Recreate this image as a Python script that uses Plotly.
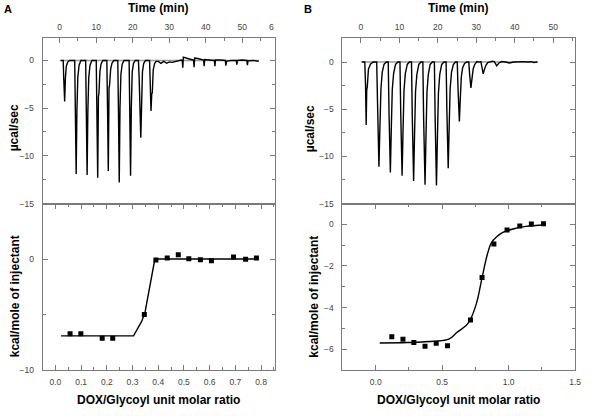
import plotly.graph_objects as go

# ---------------- DATA ----------------
# Panel A raw thermogram (Time in min, µcal/sec)
a_time = [0.3, 0.95, 1.1, 1.35, 1.55, 1.8, 2.15, 2.65,
          4.1, 4.25, 4.5, 4.7, 4.95, 5.3, 5.8,
          7.1, 7.3, 7.5, 7.7, 7.95, 8.3, 8.8,
          10.0, 10.2, 10.4, 10.6, 10.75, 11.0, 11.3, 11.8,
          12.9, 13.1, 13.3, 13.5, 13.65, 13.95, 14.3, 14.8,
          15.9, 16.1, 16.3, 16.5, 16.75, 17.1, 17.6,
          19.0, 19.2, 19.4, 19.6, 19.85, 20.2, 20.7,
          21.55, 21.75, 22.2, 22.4, 22.65, 23.0, 23.5,
          24.6, 24.75, 25.0, 25.2, 25.35, 25.6, 26.0, 26.4,
          27.0, 27.7, 28.5, 29.3, 30.0, 30.8, 31.6, 32.5, 33.3,
          33.55, 33.7, 33.85, 34.5, 35.5, 36.5,
          36.65, 36.8, 36.95, 37.8, 39.0,
          39.4, 39.55, 39.7, 41.0, 42.2,
          42.35, 42.5, 42.65, 44.0, 45.2,
          45.35, 45.5, 45.65, 47.0, 48.2,
          48.35, 48.5, 48.65, 50.0, 51.1,
          51.25, 51.4, 51.55, 53.0, 54.5]
a_signal = [0, 0, -1.9, -4.3, -1.9, -0.6, -0.2, 0,
            0, -5.9, -11.9, -5.4, -1.8, -0.5, 0,
            0, -7.2, -12.0, -5.4, -1.8, -0.5, 0,
            0, -5.5, -12.3, -3.8, -3.4, -1.2, -0.4, 0,
            0, -5.2, -11.6, -2.9, -2.6, -0.9, -0.3, 0,
            0, -5.8, -12.8, -5.0, -1.5, -0.4, 0,
            0, -5.4, -12.1, -5.0, -1.2, -0.3, 0,
            0, -1.8, -8.1, -3.6, -1.2, -0.3, 0,
            0, -1.6, -5.3, -3.5, -3.4, -1.0, -0.3, -0.1,
            -0.1, -0.3, -0.1, -0.3, -0.15, -0.2, -0.1, -0.05, 0.05,
            0.0, -0.75, 0.35, 0.3, 0.15, 0.05,
            0.05, -0.7, 0.25, 0.2, 0.05,
            0.05, -0.6, 0.1, 0.05, 0.0,
            0.0, -0.6, 0.05, 0.05, 0.0,
            0.0, -0.55, -0.1, 0.0, 0.0,
            0.0, -0.45, 0.0, 0.05, 0.0,
            0.0, -0.5, -0.05, 0.0, -0.1]
a_base_time = [0, 54.6]
a_base_signal = [0, 0]

# Panel A integrated heats
a_ratio = [0.057, 0.099, 0.182, 0.223, 0.346, 0.391, 0.435, 0.478, 0.519, 0.564, 0.607, 0.693, 0.740, 0.782]
a_heat = [-6.73, -6.73, -7.14, -7.14, -5.0, -0.09, 0.09, 0.39, 0.03, -0.06, -0.15, 0.18, -0.03, 0.09]
a_fit_ratio = [0.022, 0.304, 0.336, 0.349, 0.387, 0.791]
a_fit_heat = [-6.93, -6.93, -5.6, -4.75, 0.0, 0.0]

# Panel B raw thermogram
b_time = [0.3, 1.0, 1.2, 1.36, 1.5, 1.65, 1.95, 2.5, 3.2,
          4.1, 4.35, 4.68, 4.93, 5.2, 5.53, 6.0, 6.6,
          7.1, 7.3, 7.65, 7.9, 8.15, 8.5, 9.0, 9.6,
          10.15, 10.35, 10.7, 10.95, 11.2, 11.55, 12.05, 12.6,
          13.15, 13.35, 13.7, 13.95, 14.2, 14.55, 15.05, 15.6,
          16.1, 16.3, 16.67, 16.92, 17.17, 17.52, 18.0, 18.6,
          19.1, 19.3, 19.64, 19.9, 20.15, 20.5, 21.0, 21.6,
          22.15, 22.35, 22.7, 22.95, 23.2, 23.55, 24.05, 24.6,
          25.05, 25.25, 25.6, 25.85, 26.1, 26.45, 26.95, 27.5,
          28.05, 28.25, 28.6, 28.9, 29.2, 29.6, 30.2, 30.8,
          31.2, 31.45, 31.8, 32.1, 32.5, 33.0, 33.6, 34.2,
          34.7, 35.3, 35.9, 36.6, 37.6, 38.6, 39.8, 41.0, 42.3, 43.3, 44.2, 45.0, 45.9]
b_signal = [0, 0, -2.5, -6.67, -3.0, -2.6, -0.75, -0.2, 0,
            0, -5.0, -11.1, -7.0, -2.85, -1.1, -0.25, 0,
            0, -5.3, -11.7, -7.0, -2.9, -1.2, -0.25, 0,
            0, -5.4, -12.05, -7.2, -3.0, -1.2, -0.25, 0,
            0, -5.7, -12.6, -7.6, -3.1, -1.3, -0.25, 0,
            0, -5.9, -13.0, -7.8, -3.2, -1.3, -0.25, 0,
            0, -5.9, -13.1, -7.9, -3.3, -1.3, -0.25, 0,
            0, -5.1, -11.25, -6.8, -2.8, -1.1, -0.25, 0,
            0, -2.8, -6.3, -3.8, -1.6, -0.6, -0.15, 0,
            0, -1.2, -2.75, -1.7, -0.7, -0.25, 0.05, 0,
            0.05, -0.5, -1.25, -0.8, -0.35, -0.05, 0.05, 0.1,
            0.05, -0.4, -0.1, 0.05, 0.0, -0.1, 0.0, 0.05, 0.05, 0.0, 0.05, -0.05, 0.0]
b_base_time = [0, 46.0]
b_base_signal = [0, 0]

# Panel B integrated heats
b_ratio = [0.121, 0.205, 0.287, 0.371, 0.455, 0.540, 0.713, 0.800, 0.889, 0.988, 1.084, 1.171, 1.262]
b_heat = [-5.40, -5.52, -5.68, -5.86, -5.71, -5.84, -4.60, -2.56, -0.94, -0.27, -0.08, 0.02, 0.03]
b_fit_ratio = [0.03, 0.24, 0.44, 0.55, 0.61, 0.68, 0.71, 0.76, 0.80, 0.84, 0.87, 0.91, 0.96, 1.04, 1.13, 1.27]
b_fit_heat = [-5.70, -5.68, -5.62, -5.52, -5.2, -4.86, -4.6, -3.75, -2.56, -1.44, -0.89, -0.6, -0.38, -0.21, -0.1, -0.03]

# ---------------- LAYOUT ----------------
W, H = 591, 416
FONT = "Liberation Sans"
AXC = "#7a7a7a"
TXC = "#444444"


def px_x(a, b):
    return [a / W, b / W]


def px_y(top, bottom):
    return [1 - bottom / H, 1 - top / H]


fig = go.Figure()

line_style = dict(color="black", width=1.4)
base_style = dict(color="#9a9a9a", width=1.5)

fig.add_trace(go.Scatter(x=a_base_time, y=a_base_signal, mode="lines", line=base_style, xaxis="x", yaxis="y", showlegend=False))
fig.add_trace(go.Scatter(x=a_time, y=a_signal, mode="lines", line=line_style, xaxis="x", yaxis="y", showlegend=False))
fig.add_trace(go.Scatter(x=a_fit_ratio, y=a_fit_heat, mode="lines", line=line_style, xaxis="x2", yaxis="y2", showlegend=False))
fig.add_trace(go.Scatter(x=a_ratio, y=a_heat, mode="markers", marker=dict(symbol="square", size=5, color="black"), xaxis="x2", yaxis="y2", showlegend=False))

fig.add_trace(go.Scatter(x=b_base_time, y=b_base_signal, mode="lines", line=base_style, xaxis="x3", yaxis="y3", showlegend=False))
fig.add_trace(go.Scatter(x=b_time, y=b_signal, mode="lines", line=line_style, xaxis="x3", yaxis="y3", showlegend=False))
fig.add_trace(go.Scatter(x=b_fit_ratio, y=b_fit_heat, mode="lines", line=dict(color="black", width=1.4, shape="spline"), xaxis="x4", yaxis="y4", showlegend=False))
fig.add_trace(go.Scatter(x=b_ratio, y=b_heat, mode="markers", marker=dict(symbol="square", size=5, color="black"), xaxis="x4", yaxis="y4", showlegend=False))


def ax(**kw):
    d = dict(showline=True, linecolor=AXC, linewidth=1, ticks="inside", ticklen=5,
             tickcolor=AXC, tickwidth=1, showgrid=False, zeroline=False,
             tickfont=dict(size=8.5, color=TXC, family=FONT), mirror="ticks")
    d.update(kw)
    return d


TOP = (38, 206)
BOT = (206, 374.5)
AX = (43, 278)
BX = (346, 581)

minor = lambda dt: dict(ticks="inside", ticklen=3, tickcolor=AXC, dtick=dt)

fig.update_layout(
    width=W, height=H, margin=dict(l=0, r=0, t=0, b=0),
    paper_bgcolor="white", plot_bgcolor="white",
    font=dict(family=FONT),
    xaxis=ax(domain=px_x(*AX), anchor="y", side="top", mirror=True, range=[-4.7, 59.0],
             tick0=0, dtick=10, minor=minor(5), ticklabelstandoff=3),
    yaxis=ax(domain=px_y(*TOP), anchor="x", range=[-15, 2.4], tick0=0, dtick=5, minor=minor(2.5),
             ticklabelstandoff=6),
    xaxis2=ax(domain=px_x(*AX), anchor="y2", range=[-0.05, 0.855], tick0=0, dtick=0.1,
              tickformat=".1f", minor=minor(0.05), ticklabelstandoff=4),
    yaxis2=ax(domain=px_y(*BOT), anchor="x2", range=[-10, 5], tick0=0, dtick=10, minor=minor(5),
              ticklabelstandoff=6),
    xaxis3=ax(domain=px_x(*BX), anchor="y3", side="top", mirror=True, range=[-4.8, 55.7],
              tick0=0, dtick=10, minor=minor(5), ticklabelstandoff=3),
    yaxis3=ax(domain=px_y(*TOP), anchor="x3", range=[-15, 2.6], tick0=0, dtick=5, minor=minor(2.5),
              ticklabelstandoff=6),
    xaxis4=ax(domain=px_x(*BX), anchor="y4", range=[-0.25, 1.5], tick0=0, dtick=0.5,
              tickformat=".1f", minor=minor(0.25), ticklabelstandoff=4),
    yaxis4=ax(domain=px_y(*BOT), anchor="x4", range=[-7, 1], tick0=0, dtick=2, minor=minor(1),
              ticklabelstandoff=6),
)

annots = [
    ("<b>A</b>", 8.5, 9.5, 0, 11),
    ("<b>B</b>", 311, 9.5, 0, 11),
    ("<b>Time (min)</b>", 160, 8.5, 0, 12),
    ("<b>Time (min)</b>", 463, 8.5, 0, 12),
    ("<b>µcal/sec</b>", 15, 129, -90, 12),
    ("<b>µcal/sec</b>", 314, 130, -90, 12),
    ("<b>kcal/mole of injectant</b>", 16, 300, -90, 12),
    ("<b>kcal/mole of injectant</b>", 317.5, 300, -90, 12),
    ("<b>DOX/Glycoyl unit molar ratio</b>", 160, 405, 0, 12),
    ("<b>DOX/Glycoyl unit molar ratio</b>", 463, 405, 0, 12),
]
for text, x, y, ang, size in annots:
    fig.add_annotation(text=text, x=x / W, y=1 - y / H, xref="paper", yref="paper",
                       showarrow=False, textangle=ang, xanchor="center", yanchor="middle",
                       font=dict(family=FONT, size=size, color="black"))
# clipped "60" tick label of panel A's time axis
fig.add_annotation(text="6", x=274.7 / W, y=1 - 27.7 / H, xref="paper", yref="paper",
                   showarrow=False, xanchor="center", yanchor="middle",
                   font=dict(family=FONT, size=8.5, color=TXC))

fig.write_html("out.html",
               config={"displayModeBar": False},
               post_script="document.body.style.margin='0';document.body.style.overflow='hidden';")
